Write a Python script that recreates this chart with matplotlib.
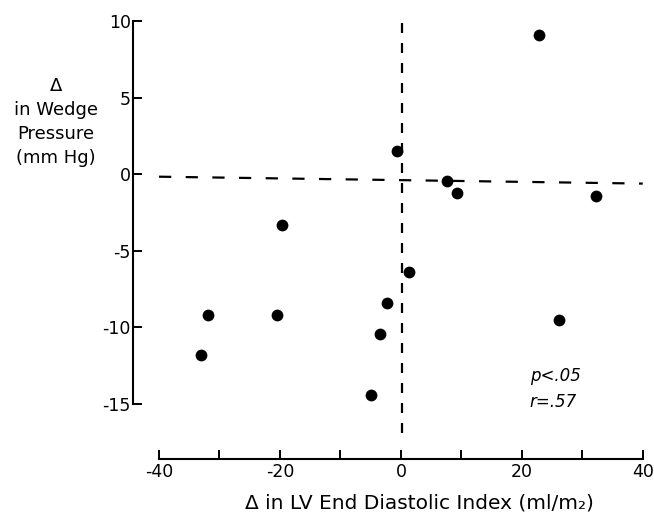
import matplotlib.pyplot as plt

# изменения: LV end diastolic index (x) и wedge pressure (y)
lv_index = [22.8, -0.7, 7.6, 9.3, 32.2, 1.3, -2.3, -3.4, 26.1, -19.7, -31.9, -20.5, -33.1, -5.0]
wedge = [9.1, 1.5, -0.4, -1.2, -1.4, -6.4, -8.4, -10.4, -9.5, -3.3, -9.2, -9.2, -11.8, -14.4]

x_ticks = [-40, -30, -20, -10, 0, 10, 20, 30, 40]
x_labels = ["-40", "", "-20", "", "0", "", "20", "", "40"]
y_ticks = [-15, -10, -5, 0, 5, 10]
y_labels = ["-15", "-10", "-5", "0", "5", "10"]

fig = plt.figure(figsize=(6.54, 5.19), dpi=100)
ax = fig.add_axes([0.2034, 0.1156, 0.7905, 0.865])

ax.scatter(lv_index, wedge, s=72, color="black", zorder=3, linewidths=0)

# пунктирные линии через ноль
ax.plot([0.2, 0.2], [9.9, -17.2], color="black", lw=1.6, dashes=(4.5, 4.5))
ax.plot([-40, 40], [-0.15, -0.6], color="black", lw=1.6, dashes=(5.5, 6.5))

ax.set_xlim(-44.3, 41.2)
ax.set_ylim(-18.6, 10.74)

for s in ["top", "right"]:
    ax.spines[s].set_visible(False)
ax.spines["left"].set_bounds(-15, 10)
ax.spines["bottom"].set_bounds(-40, 40)
for s in ["left", "bottom"]:
    ax.spines[s].set_linewidth(1.5)

ax.set_xticks(x_ticks)
ax.set_xticklabels(x_labels)
ax.set_yticks(y_ticks)
ax.set_yticklabels(y_labels)
ax.tick_params(axis="both", direction="in", length=6.5, width=1.4, labelsize=12.5)
ax.tick_params(axis="x", pad=3)
ax.tick_params(axis="y", pad=1.5)

ax.text(21.3, -13.2, "p<.05", style="italic", fontsize=12, va="center")
ax.text(21.3, -14.9, "r=.57", style="italic", fontsize=12, va="center")

fig.text(0.086, 0.765, "Δ\nin Wedge\nPressure\n(mm Hg)", ha="center", va="center",
         fontsize=13, linespacing=1.45)
fig.text(0.642, 0.031, "Δ in LV End Diastolic Index (ml/m₂)", ha="center",
         va="center", fontsize=14.5)

fig.savefig("out.png", dpi=100)
